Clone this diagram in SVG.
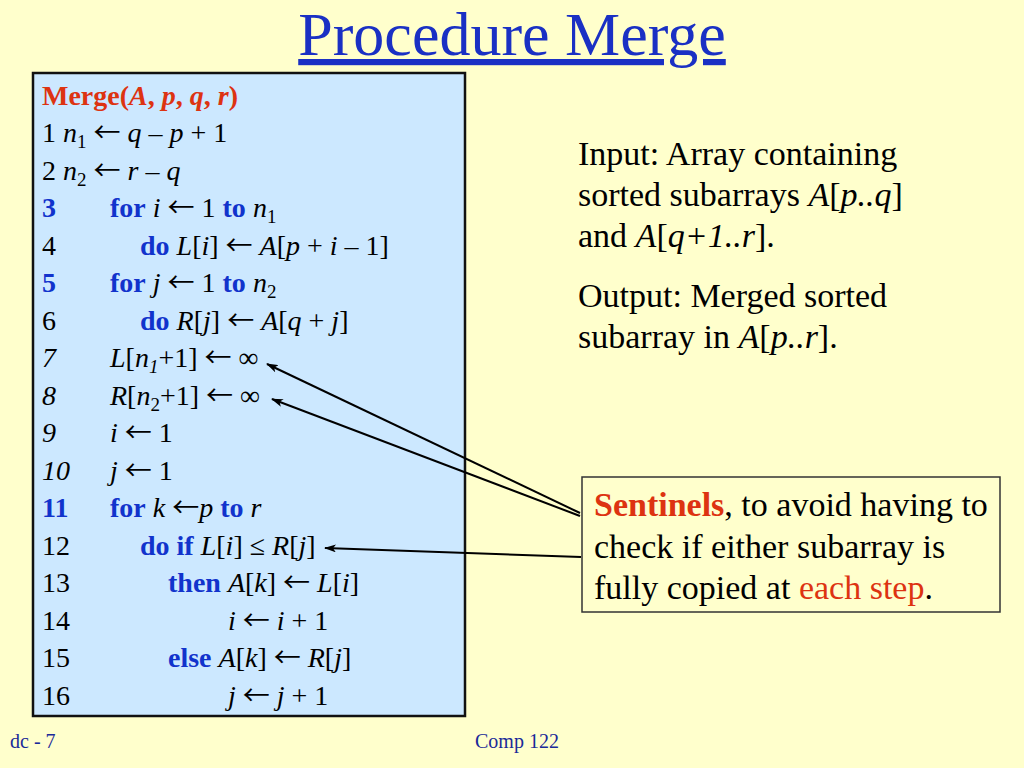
<svg xmlns="http://www.w3.org/2000/svg" width="1024" height="768" viewBox="0 0 1024 768">
<style>
.t{font-family:"Liberation Serif","Times New Roman",serif;fill:#000}
.c{font-size:28px}
.r{font-size:34px}
.k{font-weight:bold;fill:#1133CC}
.red{fill:#DD3311}
.i{font-style:italic}
.b{font-weight:bold}
.sub{font-size:19px}
.ar{font-family:"Noto Sans CJK SC","DejaVu Sans",sans-serif;font-size:27px;font-style:normal;font-weight:normal}
.conn{stroke:#000;stroke-width:2;fill:none;marker-end:url(#ah)}
</style>
<defs>
<marker id="ah" viewBox="0 0 12 8" refX="11" refY="4" markerWidth="12" markerHeight="8" markerUnits="userSpaceOnUse" orient="auto">
<path d="M0,0 L12,4 L0,8 L3,4 z" fill="#000"/>
</marker>
</defs>
<rect x="0" y="0" width="1024" height="768" fill="#FFFFCC"/>
<g id="title">
<text x="512" y="55" text-anchor="middle" class="t" style="font-size:62px;fill:#1A30C4;text-decoration:underline">Procedure Merge</text>
</g>
<g id="code">
<rect x="33" y="73" width="432" height="643" fill="#CCE8FF" stroke="#111" stroke-width="2.5"/>
<text x="42" y="105" class="t c b red">Merge(<tspan class="i">A</tspan>, <tspan class="i">p</tspan>, <tspan class="i">q</tspan>, <tspan class="i">r</tspan>)</text>
<text x="42" y="142" class="t c">1 <tspan class="i">n</tspan><tspan class="sub" dy="6">1</tspan><tspan dy="-6"> <tspan class="ar">←</tspan> </tspan><tspan class="i">q</tspan> – <tspan class="i">p</tspan> + 1</text>
<text x="42" y="180" class="t c">2 <tspan class="i">n</tspan><tspan class="sub" dy="6">2</tspan><tspan dy="-6"> <tspan class="ar">←</tspan> </tspan><tspan class="i">r</tspan> – <tspan class="i">q</tspan></text>
<text x="42" y="217" class="t c k">3</text>
<text x="110" y="217" class="t c"><tspan class="k">for</tspan> <tspan class="i">i</tspan> <tspan class="ar">←</tspan> 1 <tspan class="k">to</tspan> <tspan class="i">n</tspan><tspan class="sub" dy="6">1</tspan></text>
<text x="42" y="255" class="t c">4</text>
<text x="140" y="255" class="t c"><tspan class="k">do</tspan> <tspan class="i">L</tspan>[<tspan class="i">i</tspan>] <tspan class="ar">←</tspan> <tspan class="i">A</tspan>[<tspan class="i">p</tspan> + <tspan class="i">i</tspan> – 1]</text>
<text x="42" y="292" class="t c k">5</text>
<text x="110" y="292" class="t c"><tspan class="k">for</tspan> <tspan class="i">j</tspan> <tspan class="ar">←</tspan> 1 <tspan class="k">to</tspan> <tspan class="i">n</tspan><tspan class="sub" dy="6">2</tspan></text>
<text x="42" y="330" class="t c">6</text>
<text x="140" y="330" class="t c"><tspan class="k">do</tspan> <tspan class="i">R</tspan>[<tspan class="i">j</tspan>] <tspan class="ar">←</tspan> <tspan class="i">A</tspan>[<tspan class="i">q</tspan> + <tspan class="i">j</tspan>]</text>
<text x="42" y="367" class="t c i">7</text>
<text x="110" y="367" class="t c"><tspan class="i">L</tspan>[<tspan class="i">n</tspan><tspan class="sub i" dy="6">1</tspan><tspan dy="-6">+1] <tspan class="ar">←</tspan> ∞</tspan></text>
<text x="42" y="405" class="t c i">8</text>
<text x="110" y="405" class="t c"><tspan class="i">R</tspan>[<tspan class="i">n</tspan><tspan class="sub" dy="6">2</tspan><tspan dy="-6">+1] <tspan class="ar">←</tspan> ∞</tspan></text>
<text x="42" y="442" class="t c i">9</text>
<text x="110" y="442" class="t c"><tspan class="i">i</tspan> <tspan class="ar">←</tspan> 1</text>
<text x="42" y="480" class="t c i">10</text>
<text x="110" y="480" class="t c"><tspan class="i">j</tspan> <tspan class="ar">←</tspan> 1</text>
<text x="42" y="517" class="t c k">11</text>
<text x="110" y="517" class="t c"><tspan class="k">for</tspan> <tspan class="i">k</tspan> <tspan class="ar">←</tspan><tspan class="i">p</tspan> <tspan class="k">to</tspan> <tspan class="i">r</tspan></text>
<text x="42" y="555" class="t c">12</text>
<text x="140" y="555" class="t c"><tspan class="k">do if</tspan> <tspan class="i">L</tspan>[<tspan class="i">i</tspan>] ≤ <tspan class="i">R</tspan>[<tspan class="i">j</tspan>]</text>
<text x="42" y="592" class="t c">13</text>
<text x="168" y="592" class="t c"><tspan class="k">then</tspan> <tspan class="i">A</tspan>[<tspan class="i">k</tspan>] <tspan class="ar">←</tspan> <tspan class="i">L</tspan>[<tspan class="i">i</tspan>]</text>
<text x="42" y="630" class="t c">14</text>
<text x="228" y="630" class="t c"><tspan class="i">i</tspan> <tspan class="ar">←</tspan> <tspan class="i">i</tspan> + 1</text>
<text x="42" y="667" class="t c">15</text>
<text x="168" y="667" class="t c"><tspan class="k">else</tspan> <tspan class="i">A</tspan>[<tspan class="i">k</tspan>] <tspan class="ar">←</tspan> <tspan class="i">R</tspan>[<tspan class="i">j</tspan>]</text>
<text x="42" y="705" class="t c">16</text>
<text x="228" y="705" class="t c"><tspan class="i">j</tspan> <tspan class="ar">←</tspan> <tspan class="i">j</tspan> + 1</text>
</g>
<g id="io">
<text x="578" y="165" class="t r">Input: Array containing</text>
<text x="578" y="206" class="t r">sorted subarrays <tspan class="i">A</tspan>[<tspan class="i">p..q</tspan>]</text>
<text x="578" y="247" class="t r">and <tspan class="i">A</tspan>[<tspan class="i">q+1..r</tspan>].</text>
<text x="578" y="307" class="t r">Output: Merged sorted</text>
<text x="578" y="348" class="t r">subarray in <tspan class="i">A</tspan>[<tspan class="i">p..r</tspan>].</text>
</g>
<g id="sentinels">
<rect x="582" y="477" width="418" height="135" fill="#FFFFCC" stroke="#333" stroke-width="1.5"/>
<text x="594" y="516" class="t r"><tspan class="b red">Sentinels</tspan>, to avoid having to</text>
<text x="594" y="558" class="t r">check if either subarray is</text>
<text x="594" y="599" class="t r">fully copied at <tspan class="red">each step</tspan>.</text>
</g>
<g id="connectors">
<line class="conn" x1="580" y1="513" x2="267" y2="364"/>
<line class="conn" x1="580" y1="516" x2="272" y2="399"/>
<line class="conn" x1="581" y1="557" x2="325" y2="548"/>
</g>
<g id="footer">
<text x="10" y="748" class="t" style="font-size:20px;fill:#1A2A99">dc - 7</text>
<text x="475" y="748" class="t" style="font-size:20px;fill:#1A2A99">Comp 122</text>
</g>
</svg>
